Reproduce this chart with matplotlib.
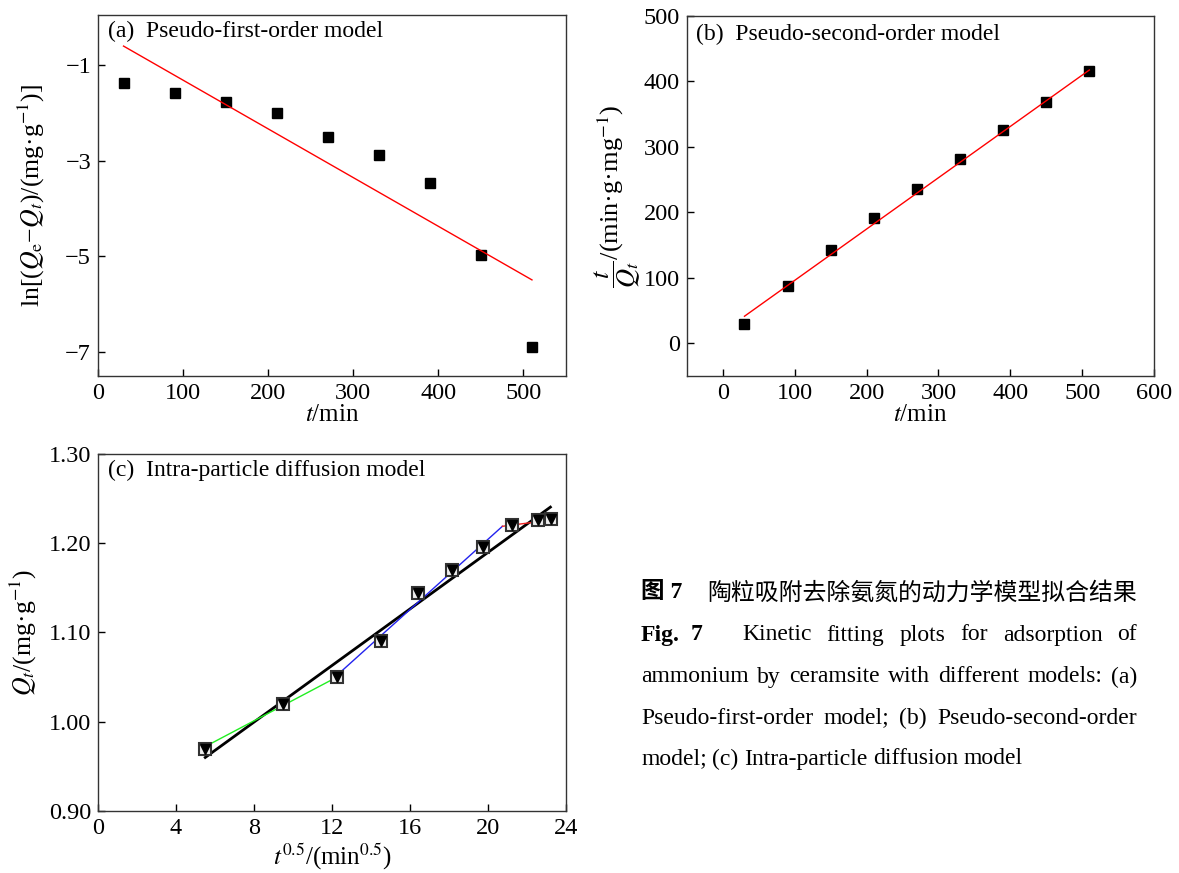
import matplotlib
matplotlib.use('Agg')
import matplotlib.pyplot as plt

plt.rcParams['font.family'] = ['Liberation Serif', 'Noto Sans CJK SC']
plt.rcParams['mathtext.fontset'] = 'stix'
plt.rcParams['font.size'] = 17

# time points (min)
t = [30, 90, 150, 210, 270, 330, 390, 450, 510]

# (a) pseudo-first-order
ln_qe_qt = [-1.37, -1.59, -1.76, -2.01, -2.50, -2.87, -3.47, -4.96, -6.90]
fit_a_x = [30, 510]
fit_a_y = [-0.60, -5.49]

# (b) pseudo-second-order
t_over_qt = [30.0, 87.7, 142.5, 191.6, 235.5, 281.5, 325.7, 368.5, 416.0]
fit_b_x = [30, 510]
fit_b_y = [41.3, 417.5]

# (c) intra-particle diffusion
sqrt_t = [5.48, 9.49, 12.25, 14.49, 16.43, 18.17, 19.75, 21.21, 22.58, 23.24]
qt = [0.970, 1.020, 1.050, 1.090, 1.144, 1.170, 1.196, 1.220, 1.226, 1.227]
fit_all_x = [5.5, 23.2]
fit_all_y = [0.960, 1.2405]
stage1_x = [5.48, 12.25]
stage1_y = [0.972, 1.050]
stage2_x = [12.25, 20.74]
stage2_y = [1.052, 1.219]
stage3_x = [20.74, 23.24]
stage3_y = [1.219, 1.226]

W, H = 1179, 873
fig = plt.figure(figsize=(W / 100, H / 100), dpi=100)


def box(l, t_, r, b):
    return [l / W, 1 - b / H, (r - l) / W, (b - t_) / H]


def style(ax):
    ax.tick_params(axis='x', direction='in', length=5, width=1, top=False, labelsize=17.5, pad=5)
    ax.tick_params(axis='y', direction='in', length=5, width=1, right=False, labelsize=17.5, pad=5)
    for s in ax.spines.values():
        s.set_linewidth(1.0)
        s.set_color('#333333')


# panel a
ax1 = fig.add_axes(box(98, 15, 566, 376))
ax1.plot(t, ln_qe_qt, 's', color='black', markersize=6.5)
ax1.plot(fit_a_x, fit_a_y, color='red', linewidth=1)
ax1.set_xlim(0, 550)
ax1.set_ylim(-7.5, 0.05)
ax1.set_xticks([0, 100, 200, 300, 400, 500])
ax1.set_yticks([-1, -3, -5, -7])
ax1.set_xlabel('$t$/min', fontsize=18, labelpad=0)
ax1.set_ylabel(r'ln[($Q_\mathrm{e}$−$Q_t$)/(mg·g$^{-1}$)]', fontsize=18.5, labelpad=13)
ax1.text(0.022, 0.955, '(a)  Pseudo-first-order model', transform=ax1.transAxes,
         fontsize=17, va='center', ha='left')
style(ax1)

# panel b
ax2 = fig.add_axes(box(687, 16, 1154, 376))
ax2.plot(t, t_over_qt, 's', color='black', markersize=6.5)
ax2.plot(fit_b_x, fit_b_y, color='red', linewidth=1)
ax2.set_xlim(-50, 600)
ax2.set_ylim(-50, 500)
ax2.set_xticks([0, 100, 200, 300, 400, 500, 600])
ax2.set_yticks([0, 100, 200, 300, 400, 500])
ax2.set_xlabel('$t$/min', fontsize=18, labelpad=0)
ax2.set_ylabel(r'$\dfrac{t}{Q_t}$/(min·g·mg$^{-1}$)', fontsize=19, labelpad=1)
ax2.text(0.02, 0.95, '(b)  Pseudo-second-order model', transform=ax2.transAxes,
         fontsize=17, va='center', ha='left')
style(ax2)

# panel c
ax3 = fig.add_axes(box(98, 454, 566, 811))
ax3.plot(fit_all_x, fit_all_y, color='black', linewidth=2)
ax3.plot(stage1_x, stage1_y, color='#22ee22', linewidth=1)
ax3.plot(stage2_x, stage2_y, color='#2222ee', linewidth=1)
ax3.plot(stage3_x, stage3_y, color='#ee2222', linewidth=1)
ax3.plot(sqrt_t, qt, 's', mfc='#eeeeee', mec='#333333', mew=1.5, markersize=8.5, linestyle='none')
ax3.plot(sqrt_t, qt, 'v', color='black', markersize=7, linestyle='none')
ax3.set_xlim(0, 24)
ax3.set_ylim(0.9, 1.3)
ax3.set_xticks([0, 4, 8, 12, 16, 20, 24])
ax3.set_yticks([0.9, 1.0, 1.1, 1.2, 1.3])
ax3.set_yticklabels(['0.90', '1.00', '1.10', '1.20', '1.30'])
ax3.set_xlabel(r'$t^{0.5}$/(min$^{0.5}$)', fontsize=18, labelpad=2)
ax3.set_ylabel(r'$Q_t$/(mg·g$^{-1}$)', fontsize=18.5, labelpad=7)
ax3.text(0.022, 0.955, '(c)  Intra-particle diffusion model', transform=ax3.transAxes,
         fontsize=17, va='center', ha='left')
style(ax3)

# caption
renderer = fig.canvas.get_renderer()


def justify(words, x0, x1, y, fill=True, **kw):
    texts = [fig.text(0, 1 - y / H, w, va='center', ha='left', **kw) for w in words]
    widths = [tx.get_window_extent(renderer).width for tx in texts]
    gap = (x1 - x0 - sum(widths)) / (len(words) - 1) if fill else 5.5
    x = x0
    for tx, w in zip(texts, widths):
        tx.set_x(x / W)
        x += w + gap


cap_fs = 17
fig.text(641 / W, 1 - 593 / H, '图 7', fontsize=cap_fs, fontweight='bold', va='center')
fig.text(707 / W, 1 - 593 / H, '陶粒吸附去除氨氮的动力学模型拟合结果', fontsize=cap_fs + 0.2, va='center')
justify(['Fig.', '7'], 641, 702, 635, fontsize=cap_fs, fontweight='bold')
justify('Kinetic fitting plots for adsorption of'.split(), 742, 1137, 635, fontsize=cap_fs)
justify('ammonium by ceramsite with different models: (a)'.split(), 641, 1137, 677, fontsize=cap_fs)
justify('Pseudo-first-order model; (b) Pseudo-second-order'.split(), 641, 1137, 718, fontsize=cap_fs)
justify('model; (c) Intra-particle diffusion model'.split(), 641, 1137, 759, fill=False, fontsize=cap_fs)

fig.savefig('out.png', dpi=100)
